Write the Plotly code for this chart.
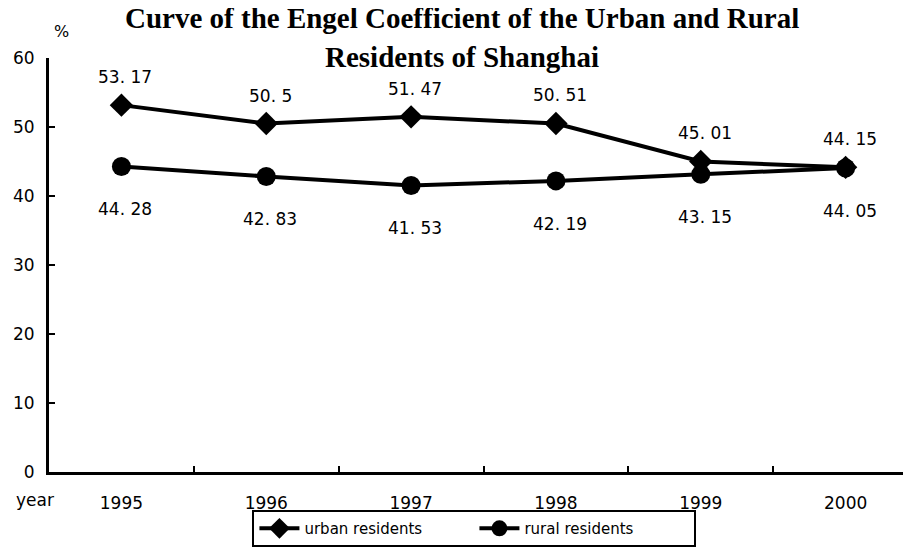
import plotly.graph_objects as go

years = ["1995", "1996", "1997", "1998", "1999", "2000"]
urban = [53.17, 50.5, 51.47, 50.51, 45.01, 44.15]
rural = [44.28, 42.83, 41.53, 42.19, 43.15, 44.05]
urban_labels = ["53. 17", "50. 5", "51. 47", "50. 51", "45. 01", "44. 15"]
rural_labels = ["44. 28", "42. 83", "41. 53", "42. 19", "43. 15", "44. 05"]
y_ticks = [0, 10, 20, 30, 40, 50, 60]

FONT = "DejaVu Sans"

fig = go.Figure()
fig.add_trace(go.Scatter(
    x=years, y=urban, mode="lines+markers", name="urban residents",
    line=dict(color="black", width=4),
    marker=dict(symbol="diamond", size=18, color="black"),
))
fig.add_trace(go.Scatter(
    x=years, y=rural, mode="lines+markers", name="rural residents",
    line=dict(color="black", width=4),
    marker=dict(symbol="circle", size=19, color="black"),
))

annotations = []
for i, (v, t) in enumerate(zip(urban, urban_labels)):
    annotations.append(dict(x=i, y=v, text=t, showarrow=False, xref="x", yref="y",
                            yanchor="middle", xanchor="center",
                            yshift=28, xshift=4, font=dict(family=FONT, size=17, color="black")))
for i, (v, t) in enumerate(zip(rural, rural_labels)):
    annotations.append(dict(x=i, y=v, text=t, showarrow=False, xref="x", yref="y",
                            yanchor="middle", xanchor="center",
                            yshift=-43, xshift=4, font=dict(family=FONT, size=17, color="black")))

title_font = dict(family="Liberation Serif", size=29, color="black")
annotations += [
    dict(x=0.4825, y=1.0966, xref="paper", yref="paper", showarrow=False,
         xanchor="center", yanchor="middle",
         text="<b>Curve of the Engel Coefficient of the Urban and Rural</b>", font=title_font),
    dict(x=0.4825, y=1.0024, xref="paper", yref="paper", showarrow=False,
         xanchor="center", yanchor="middle",
         text="<b>Residents of Shanghai</b>", font=title_font),
    dict(x=0.015, y=1.063, xref="paper", yref="paper", showarrow=False,
         xanchor="center", yanchor="middle",
         text="%", font=dict(family=FONT, size=16, color="black")),
    dict(x=-0.016, y=-0.068, xref="paper", yref="paper", showarrow=False,
         xanchor="center", yanchor="middle",
         text="year", font=dict(family=FONT, size=17, color="black")),
]

fig.update_layout(
    width=911, height=548,
    margin=dict(l=41, r=14, t=50, b=84, autoexpand=False),
    paper_bgcolor="white", plot_bgcolor="white",
    showlegend=True,
    legend=dict(orientation="h", x=0.497, xanchor="center", y=-0.092, yanchor="top",
                bordercolor="black", borderwidth=2, bgcolor="white",
                font=dict(family=FONT, size=15, color="black"),
                itemwidth=40, entrywidth=165, tracegroupgap=0),
    annotations=annotations,
)
fig.update_xaxes(
    type="category", range=[-0.5, 5.41], showgrid=False, zeroline=False,
    showline=True, linecolor="black", linewidth=3,
    ticks="inside", ticklen=6, tickwidth=2, tickcolor="black", tickson="boundaries",
    tickfont=dict(family=FONT, size=17, color="black"), ticklabelstandoff=14,
)
fig.update_yaxes(
    range=[0, 60], tickvals=y_ticks, showgrid=False, zeroline=False,
    showline=True, linecolor="black", linewidth=3,
    ticks="inside", ticklen=6, tickwidth=2, tickcolor="black",
    tickfont=dict(family=FONT, size=17, color="black"), ticklabelstandoff=8,
)

fig.write_html("out.html")
